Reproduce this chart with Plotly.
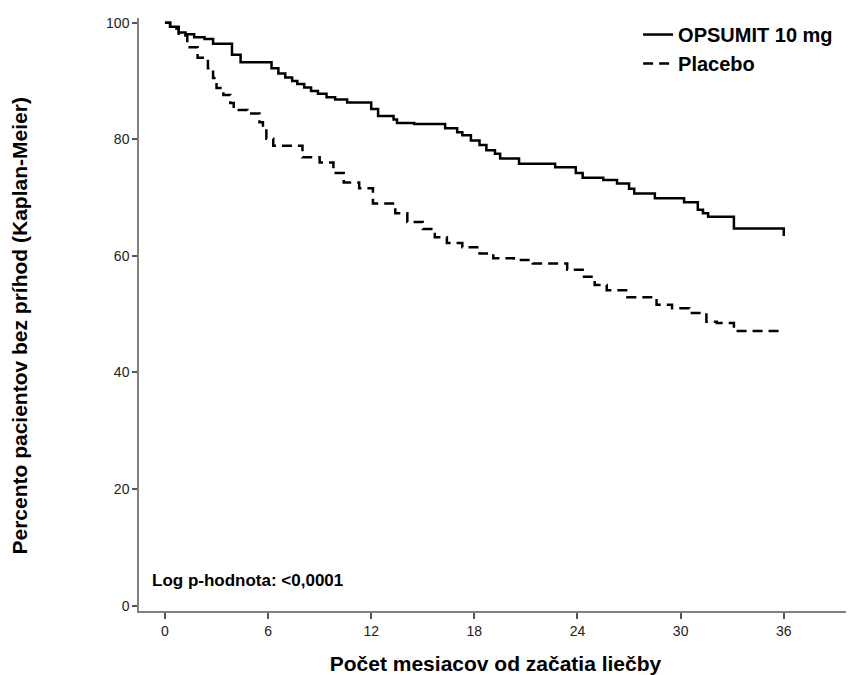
import plotly.graph_objects as go

# Kaplan-Meier step data (months, % event-free)
opsumit_t = [0, 0.3, 0.8, 1.2, 1.7, 2.3, 2.8, 3.9, 4.4, 6.2, 6.6, 7.0, 7.4, 7.7, 8.1, 8.5, 8.9,
             9.4, 9.9, 10.6, 12.0, 12.4, 13.3, 13.5, 14.5, 16.3, 17.0, 17.3, 17.8, 18.3, 18.7,
             19.2, 19.5, 20.6, 22.7, 23.9, 24.3, 25.5, 26.3, 27.0, 27.3, 28.5, 30.2, 31.0,
             31.3, 31.6, 33.1, 35.9, 36.0]
opsumit_s = [100, 99.3, 98.3, 98.0, 97.5, 97.2, 96.4, 94.5, 93.2, 92.2, 91.3, 90.6, 90.0, 89.5,
             88.9, 88.3, 87.8, 87.2, 86.8, 86.3, 85.2, 84.0, 83.4, 82.8, 82.6, 81.9, 81.2, 80.7,
             79.8, 79.0, 78.1, 77.5, 76.7, 75.8, 75.2, 74.2, 73.4, 73.0, 72.4, 71.5, 70.7, 69.9,
             69.2, 67.9, 67.3, 66.7, 64.7, 64.7, 63.4]

placebo_t = [0, 0.3, 0.8, 1.3, 1.9, 2.5, 2.8, 3.0, 3.4, 3.8, 4.0, 4.8, 5.5, 5.7, 5.9, 6.3, 8.0,
             9.0, 9.8, 10.4, 11.3, 12.1, 13.4, 14.1, 15.0, 15.7, 16.4, 17.3, 18.3, 19.1, 20.3,
             21.4, 23.4, 24.3, 25.0, 25.7, 26.9, 28.6, 29.5, 30.5, 31.5, 32.1, 33.1, 35.8]
placebo_s = [100, 99.0, 97.8, 95.8, 94.0, 92.2, 90.5, 88.8, 87.6, 86.2, 85.0, 84.4, 82.9, 81.5,
             80.1, 78.9, 76.9, 76.0, 74.2, 72.6, 71.6, 69.0, 67.3, 65.8, 64.6, 63.2, 62.2, 61.5,
             60.4, 59.6, 59.3, 58.7, 57.6, 56.4, 55.0, 54.1, 52.9, 51.6, 51.0, 50.2, 48.7, 48.5,
             47.1, 47.1]

x_ticks = [0, 6, 12, 18, 24, 30, 36]
y_ticks = [0, 20, 40, 60, 80, 100]

FONT = "Liberation Sans, Arial, sans-serif"

fig = go.Figure()
fig.add_trace(go.Scatter(x=opsumit_t, y=opsumit_s, mode="lines", line_shape="hv",
                         name="<b>OPSUMIT 10 mg</b>", line=dict(color="black", width=2.5)))
fig.add_trace(go.Scatter(x=placebo_t, y=placebo_s, mode="lines", line_shape="hv",
                         name="<b>Placebo</b>", line=dict(color="black", width=2.5, dash="10px,6px")))

fig.update_layout(
    width=854, height=675,
    margin=dict(l=131, r=10, t=10, b=72, autoexpand=False),
    paper_bgcolor="white", plot_bgcolor="white",
    showlegend=True,
    legend=dict(x=0.70, y=1.005, xanchor="left", yanchor="top",
                font=dict(family=FONT, size=20, color="black"),
                bgcolor="rgba(0,0,0,0)", tracegroupgap=0),
    font=dict(family=FONT, color="black"),
)
fig.update_xaxes(range=[-1.51, 39.97], tickvals=x_ticks, ticktext=[str(v) for v in x_ticks],
                 showgrid=False, zeroline=False, showline=True, linecolor="#808080", linewidth=1.5,
                 ticks="outside", ticklen=6, tickcolor="#555", tickwidth=1.5,
                 tickfont=dict(family=FONT, size=14, color="#222"),
                 title=dict(text="<b>Počet mesiacov od začatia liečby</b>",
                            font=dict(family=FONT, size=21, color="black"), standoff=19))
fig.update_yaxes(range=[-0.91, 100.8], tickvals=y_ticks, ticktext=[str(v) for v in y_ticks],
                 showgrid=False, zeroline=False, showline=True, linecolor="#808080", linewidth=1.5,
                 ticks="outside", ticklen=5, tickcolor="#555", tickwidth=1.5,
                 tickfont=dict(family=FONT, size=14, color="#222"))

fig.add_annotation(text="<b>Percento pacientov bez príhod (Kaplan-Meier)</b>",
                   xref="paper", yref="paper", x=-0.187, y=0.48, textangle=-90,
                   showarrow=False, font=dict(family=FONT, size=21, color="black"))
fig.add_annotation(text="<b>Log p-hodnota: <0,0001</b>",
                   xref="paper", yref="paper", x=0.0154, y=0.0506, xanchor="left", yanchor="middle",
                   showarrow=False, font=dict(family=FONT, size=17, color="black"))

fig.write_html("out.html")
